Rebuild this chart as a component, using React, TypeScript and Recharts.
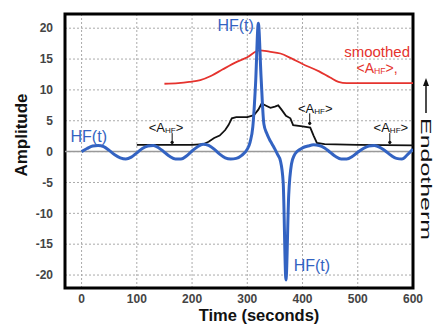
import {
  LineChart,
  Line,
  XAxis,
  YAxis,
  CartesianGrid,
  ReferenceLine,
  ReferenceArea,
  ReferenceDot,
} from 'recharts'

// HF(t), raw heat-flow signal
const hfTime = [
  0, 10, 20, 30, 40, 50, 60, 70, 80, 90, 100, 110, 120, 130, 140, 150, 160, 170, 180, 190, 200, 210,
  220, 230, 240, 250, 260, 270, 280, 290, 300, 305, 310, 315, 320, 325, 330, 335, 340, 345, 350, 355,
  360, 365, 370, 375, 380, 385, 390, 400, 410, 420, 430, 440, 450, 460, 470, 480, 490, 500, 510, 520,
  530, 540, 550, 560, 570, 580, 590, 600,
]
const hfValues = [
  0, 0.5, 0.9, 1.0, 0.8, 0.2, -0.5, -1.0, -1.2, -0.9, -0.2, 0.5, 0.9, 1.0, 0.6, -0.1, -0.8, -1.2, -1.2,
  -0.7, 0.1, 0.8, 1.2, 1.0, 0.4, -0.4, -1.0, -1.2, -1.1, -0.6, 0.4, 1.5, 4.0, 11.0, 20.8, 12.0, 4.5,
  3.0, 2.0, 1.2, 0.4, -0.5, -1.5, -5.0, -20.8, -7.0, -2.0, -0.6, 0.0, 0.6, 0.9, 1.1, 1.0, 0.6, -0.1,
  -0.8, -1.2, -1.2, -0.8, -0.1, 0.5, 0.9, 1.0, 0.7, 0.1, -0.6, -1.1, -1.2, -0.5, 0.4,
]

// <A_HF>
const avgTime = [
  100, 150, 200, 220, 230, 240, 250, 260, 266, 272, 280, 300, 312, 320, 326, 335, 342, 350, 356, 362,
  370, 378, 383, 400, 414, 420, 426, 440, 500, 600,
]
const avgValues = [
  1.1, 1.1, 1.1, 1.2, 1.6, 2.2, 2.6, 3.5, 4.3, 5.4, 5.6, 5.6, 5.9, 6.8, 7.8, 7.4, 7.1, 7.3, 7.5, 6.8,
  5.8, 5.4, 4.3, 4.1, 3.9, 2.6, 1.4, 1.2, 1.1, 1.0,
]

// smoothed <A_HF>
const smoothTime = [150, 175, 195, 215, 235, 255, 280, 300, 322, 340, 360, 380, 400, 430, 450, 465, 480, 600]
const smoothValues = [11.0, 11.1, 11.3, 11.6, 12.3, 13.3, 14.5, 15.3, 16.4, 16.2, 15.9, 15.1, 14.2, 13.0, 12.0, 11.3, 11.1, 11.1]

const xTicks = [0, 100, 200, 300, 400, 500, 600]
const yTicks = [-20, -15, -10, -5, 0, 5, 10, 15, 20]

const BLUE = '#3363c2'
const RED = '#e5332e'
const INK = '#111'

const hfData = hfTime.map((t, i) => ({ t, v: hfValues[i] }))
const avgData = avgTime.map((t, i) => ({ t, v: avgValues[i] }))
const smoothData = smoothTime.map((t, i) => ({ t, v: smoothValues[i] }))

type Note = { t: number; v: number; text: string; color: string; size: number; sub?: boolean }

const notes: Note[] = [
  { t: 279, v: 20.4, text: 'HF(t)', color: BLUE, size: 16 },
  { t: 13, v: 2.5, text: 'HF(t)', color: BLUE, size: 16 },
  { t: 417, v: -18.5, text: 'HF(t)', color: BLUE, size: 16 },
  { t: 535, v: 16.3, text: 'smoothed', color: RED, size: 15 },
  { t: 535, v: 13.5, text: ',', color: RED, size: 14, sub: true },
  { t: 153, v: 4.0, text: '', color: INK, size: 13, sub: true },
  { t: 423, v: 7.1, text: '', color: INK, size: 13, sub: true },
  { t: 560, v: 4.0, text: '', color: INK, size: 13, sub: true },
]

// little pointers from the <A_HF> labels down to the line
const pointers = [
  { t: 164, from: 3.0, to: 1.2 },
  { t: 413, from: 6.2, to: 4.3 },
  { t: 558, from: 3.0, to: 1.2 },
]

function NoteText({ viewBox, note }: any) {
  const x = viewBox.x + viewBox.width / 2
  const y = viewBox.y + viewBox.height / 2
  if (note.sub) {
    return (
      <text x={x} y={y} textAnchor="middle" dominantBaseline="central" fill={note.color} fontSize={note.size}>
        <tspan>&lt;A</tspan>
        <tspan fontSize={note.size * 0.62} dy={3}>
          HF
        </tspan>
        <tspan dy={-3}>&gt;{note.text}</tspan>
      </text>
    )
  }
  return (
    <text x={x} y={y} textAnchor="middle" dominantBaseline="central" fill={note.color} fontSize={note.size}>
      {note.text}
    </text>
  )
}

function YTitle({ viewBox }: any) {
  const x = viewBox.x + 21
  const y = viewBox.y + 121
  return (
    <text x={x} y={y} transform={`rotate(-90, ${x}, ${y})`} textAnchor="middle" dominantBaseline="central"
      fontSize={17} fontWeight="bold" fill="#111">
      Amplitude
    </text>
  )
}

function XTitle({ viewBox }: any) {
  const x = viewBox.x + 194
  const y = viewBox.y + 27
  return (
    <text x={x} y={y} textAnchor="middle" dominantBaseline="central" fontSize={16.5} fontWeight="bold" fill="#111">
      Time (seconds)
    </text>
  )
}

function EndothermTitle({ viewBox }: any) {
  const bx = viewBox.x + 8
  const top = viewBox.y + 104
  const ax = bx + 5
  return (
    <g>
      <line x1={ax} y1={viewBox.y + 99} x2={ax} y2={viewBox.y + 70} stroke="#111" strokeWidth={1.5} />
      <path d={`M${ax - 3},${viewBox.y + 72} L${ax},${viewBox.y + 64} L${ax + 3},${viewBox.y + 72} Z`} fill="#111" />
      <text x={bx} y={top} transform={`rotate(90, ${bx}, ${top})`} fontSize={14} fill="#111"
        textLength={122} lengthAdjust="spacingAndGlyphs">
        Endotherm
      </text>
    </g>
  )
}

export default function App() {
  const tickStyle = { fontSize: 12, fontWeight: 'bold', fill: '#444' }
  return (
    <div
      style={{
        position: 'absolute',
        left: 0,
        top: 0,
        width: 435,
        height: 325,
        background: '#fff',
        fontFamily: '"Liberation Sans", Arial, sans-serif',
      }}
    >
      <LineChart width={435} height={325} margin={{ top: 14, right: 0, bottom: 0, left: 0 }}>
        <CartesianGrid stroke="#aaa" strokeDasharray="2 2" />
        <XAxis
          dataKey="t"
          type="number"
          domain={[-30, 600]}
          ticks={xTicks}
          allowDataOverflow
          height={37}
          axisLine={false}
          tickLine={false}
          tickSize={6}
          tickMargin={0}
          tick={tickStyle}
          label={<XTitle />}
        />
        <YAxis
          type="number"
          domain={[-22.1, 22.3]}
          ticks={yTicks}
          allowDataOverflow
          width={65}
          axisLine={false}
          tickLine={false}
          tickSize={6}
          tickMargin={6}
          tick={tickStyle}
          label={<YTitle />}
        />
        <YAxis
          yAxisId="right"
          orientation="right"
          width={22}
          domain={[0, 1]}
          tick={false}
          axisLine={false}
          tickLine={false}
          label={<EndothermTitle />}
        />
        <ReferenceLine y={0} stroke="#999" strokeWidth={1.5} />
        <Line data={smoothData} dataKey="v" type="monotone" stroke={RED} strokeWidth={1.8} dot={false} isAnimationActive={false} />
        <Line data={avgData} dataKey="v" type="linear" stroke={INK} strokeWidth={1.8} dot={false} isAnimationActive={false} />
        <Line data={hfData} dataKey="v" type="monotone" stroke={BLUE} strokeWidth={3} dot={false} isAnimationActive={false} />
        {pointers.map((p, i) => (
          <ReferenceLine
            key={`p${i}`}
            segment={[
              { x: p.t, y: p.from },
              { x: p.t, y: p.to },
            ]}
            stroke={INK}
            strokeWidth={1}
          />
        ))}
        {pointers.map((p, i) => (
          <ReferenceDot key={`pd${i}`} x={p.t} y={p.to + 0.3} r={1.6} fill={INK} stroke="none" />
        ))}
        {notes.map((n, i) => (
          <ReferenceDot key={`n${i}`} x={n.t} y={n.v} r={0} fill="none" stroke="none" label={<NoteText note={n} />} />
        ))}
        <ReferenceArea x1={-30} x2={600} y1={-22.1} y2={22.3} fill="none" stroke="#000" strokeWidth={3} />
      </LineChart>
    </div>
  )
}
